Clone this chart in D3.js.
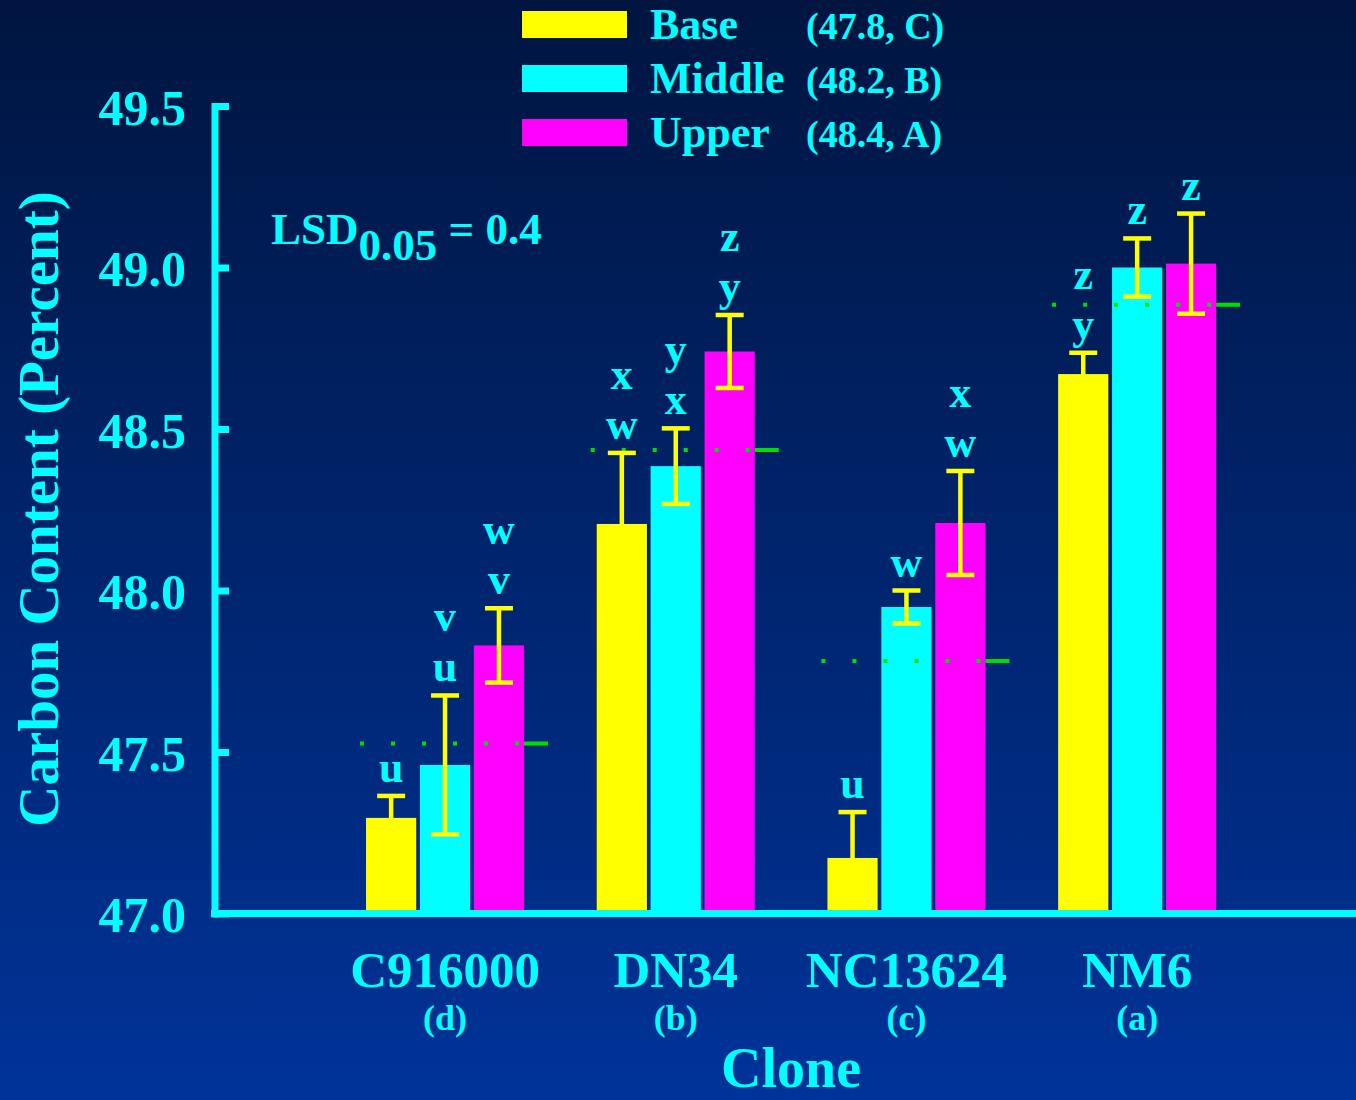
<!DOCTYPE html>
<html>
<head>
<meta charset="utf-8">
<script src="https://cdn.jsdelivr.net/npm/d3@7"></script>
<style>
    body { margin: 0; background: #001540; }
    text { font-family: "Liberation Serif", "Times New Roman", serif; font-weight: bold; fill: #00ffff; }
</style>
</head>
<body>
<div id="chart"></div>
<script>
// values
var clones = ["C916000", "DN34", "NC13624", "NM6"];
var cloneRanks = ["(d)", "(b)", "(c)", "(a)"];
var cloneMeans = [47.526, 48.435, 47.782, 48.885];

var positions = ["Base", "Middle", "Upper"];
var positionStats = ["(47.8, C)", "(48.2, B)", "(48.4, A)"];
var positionColors = ["#ffff00", "#00ffff", "#ff00ff"];

var baseValues = [47.296, 48.206, 47.172, 48.670];
var baseErrors = [0.068, 0.220, 0.142, 0.066];
var baseLetters = [["u"], ["w", "x"], ["u"], ["y", "z"]];

var middleValues = [47.460, 48.385, 47.949, 49.000];
var middleErrors = [0.215, 0.117, 0.051, 0.090];
var middleLetters = [["u", "v"], ["x", "y"], ["w"], ["z"]];

var upperValues = [47.830, 48.740, 48.209, 49.012];
var upperErrors = [0.115, 0.113, 0.161, 0.155];
var upperLetters = [["v", "w"], ["y", "z"], ["w", "x"], ["z"]];

var yTicks = [47.0, 47.5, 48.0, 48.5, 49.0, 49.5];
var lsdValue = "0.4";

var width = 1356, height = 1100;

var svg = d3.select("#chart").append("svg")
    .attr("width", width)
    .attr("height", height);

var grad = svg.append("defs").append("linearGradient")
    .attr("id", "bg")
    .attr("x1", 0).attr("y1", 0).attr("x2", 0).attr("y2", 1);
grad.append("stop").attr("offset", "0%").attr("stop-color", "#001540");
grad.append("stop").attr("offset", "100%").attr("stop-color", "#003399");

svg.append("rect")
    .attr("width", width)
    .attr("height", height)
    .attr("fill", "url(#bg)");

var y = d3.scaleLinear().domain([47, 49.5]).range([913.5, 106]);

var x0 = d3.scaleBand()
    .domain(clones)
    .range([329.7, 1252.5])
    .paddingInner(0.315)
    .paddingOuter(0.1575);

var x1 = d3.scaleBand()
    .domain(positions)
    .range([0, x0.bandwidth()])
    .paddingInner(0.069)
    .paddingOuter(0);

// one record per bar
var bars = [];
clones.forEach(function(c, i) {
    [[baseValues, baseErrors, baseLetters],
     [middleValues, middleErrors, middleLetters],
     [upperValues, upperErrors, upperLetters]].forEach(function(s, j) {
        bars.push({clone: c, pos: positions[j], color: positionColors[j],
                   value: s[0][i], err: s[1][i], letters: s[2][i]});
    });
});

var barX = function(d) { return x0(d.clone) + x1(d.pos); };
var barMid = function(d) { return barX(d) + x1.bandwidth() / 2; };

svg.selectAll(".bar").data(bars).enter()
    .append("rect")
    .classed("bar", true)
    .attr("x", barX)
    .attr("y", function(d) { return y(d.value); })
    .attr("width", x1.bandwidth())
    .attr("height", function(d) { return y(47) - y(d.value); })
    .attr("fill", function(d) { return d.color; });

// clone means: dotted line ending in a dash
svg.selectAll(".mean").data(cloneMeans).enter()
    .append("line")
    .classed("mean", true)
    .attr("x1", function(d, i) { return x0(clones[i]) - 6; })
    .attr("x2", function(d, i) { return x0(clones[i]) + x0.bandwidth() + 26; })
    .attr("y1", function(d) { return y(d); })
    .attr("y2", function(d) { return y(d); })
    .attr("stroke", "#00dd00")
    .attr("stroke-width", 4)
    .attr("stroke-dasharray", "4,27,4,27,4,27,4,27,4,27,4,5,24,100");

// error bars
var eb = svg.selectAll(".err").data(bars).enter()
    .append("g")
    .classed("err", true)
    .attr("stroke", "#ffff00")
    .attr("stroke-width", 4.5);
eb.append("line")
    .attr("x1", barMid).attr("x2", barMid)
    .attr("y1", function(d) { return y(d.value + d.err); })
    .attr("y2", function(d) { return y(d.value - d.err); });
eb.append("line")
    .attr("x1", function(d) { return barMid(d) - 14; })
    .attr("x2", function(d) { return barMid(d) + 14; })
    .attr("y1", function(d) { return y(d.value + d.err); })
    .attr("y2", function(d) { return y(d.value + d.err); });
eb.append("line")
    .attr("x1", function(d) { return barMid(d) - 14; })
    .attr("x2", function(d) { return barMid(d) + 14; })
    .attr("y1", function(d) { return y(d.value - d.err); })
    .attr("y2", function(d) { return y(d.value - d.err); });

// significance letters stacked above each bar
bars.forEach(function(d) {
    svg.selectAll(null).data(d.letters).enter()
        .append("text")
        .attr("x", barMid(d))
        .attr("y", function(l, k) { return y(d.value + d.err) - 14 - k * 50; })
        .attr("text-anchor", "middle")
        .attr("font-size", 44)
        .text(function(l) { return l; });
});

// y axis, ticks pointing inwards
var yAxis = svg.append("g")
    .attr("transform", "translate(214.5,0)")
    .call(d3.axisLeft(y).tickValues(yTicks).tickSize(-14.5).tickSizeOuter(0)
        .tickPadding(28.5).tickFormat(d3.format(".1f")));
yAxis.select(".domain")
    .attr("stroke", "#00ffff")
    .attr("stroke-width", 7)
    .attr("stroke-linecap", "square");
yAxis.selectAll(".tick line")
    .attr("stroke", "#00ffff")
    .attr("stroke-width", 7);
yAxis.selectAll(".tick text")
    .attr("fill", "#00ffff")
    .attr("font-family", null)
    .attr("font-size", 50)
    .attr("dy", "0.36em");

svg.append("line")
    .attr("x1", 211).attr("x2", width)
    .attr("y1", y(47)).attr("y2", y(47))
    .attr("stroke", "#00ffff")
    .attr("stroke-width", 7);

// clone labels
svg.selectAll(".clone-label").data(clones).enter()
    .append("text")
    .attr("x", function(d) { return x0(d) + x0.bandwidth() / 2; })
    .attr("y", 987)
    .attr("text-anchor", "middle")
    .attr("font-size", 51)
    .text(function(d) { return d; });
svg.selectAll(".clone-rank").data(cloneRanks).enter()
    .append("text")
    .attr("x", function(d, i) { return x0(clones[i]) + x0.bandwidth() / 2; })
    .attr("y", 1030)
    .attr("text-anchor", "middle")
    .attr("font-size", 36)
    .text(function(d) { return d; });

svg.append("text")
    .attr("x", 791)
    .attr("y", 1087)
    .attr("text-anchor", "middle")
    .attr("font-size", 56)
    .text("Clone");

svg.append("text")
    .attr("transform", "translate(58,509) rotate(-90)")
    .attr("text-anchor", "middle")
    .attr("font-size", 57)
    .text("Carbon Content (Percent)");

// LSD note
var lsd = svg.append("text")
    .attr("x", 271)
    .attr("y", 244)
    .attr("font-size", 45);
lsd.append("tspan").text("LSD");
lsd.append("tspan").attr("dy", 16).text("0.05");
lsd.append("tspan").attr("dy", -16).text(" = " + lsdValue);

// legend
var legend = svg.selectAll(".legend-entry").data(positions).enter()
    .append("g")
    .classed("legend-entry", true)
    .attr("transform", function(d, i) { return "translate(0," + i * 54 + ")"; });
legend.append("rect")
    .attr("x", 522)
    .attr("y", 11)
    .attr("width", 105)
    .attr("height", 27)
    .attr("fill", function(d, i) { return positionColors[i]; });
legend.append("text")
    .attr("x", 650)
    .attr("y", 39)
    .attr("font-size", 44)
    .text(function(d) { return d; });
legend.append("text")
    .attr("x", 806)
    .attr("y", 39)
    .attr("font-size", 38)
    .text(function(d, i) { return positionStats[i]; });
</script>
</body>
</html>
